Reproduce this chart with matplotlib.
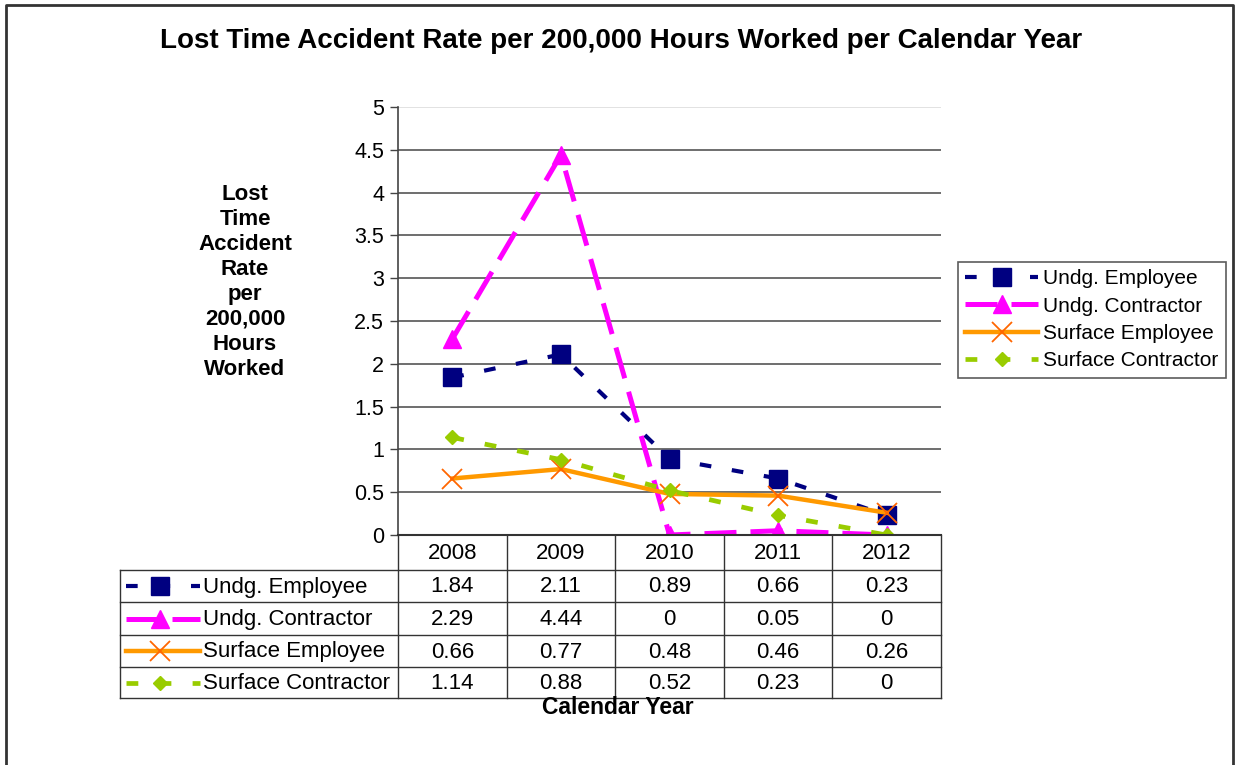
import matplotlib.pyplot as plt
from matplotlib.lines import Line2D

years = ['2008', '2009', '2010', '2011', '2012']
series_names = ['Undg. Employee', 'Undg. Contractor', 'Surface Employee', 'Surface Contractor']
undg_employee = [1.84, 2.11, 0.89, 0.66, 0.23]
undg_contractor = [2.29, 4.44, 0, 0.05, 0]
surface_employee = [0.66, 0.77, 0.48, 0.46, 0.26]
surface_contractor = [1.14, 0.88, 0.52, 0.23, 0]

plt.rcParams['font.family'] = ['Liberation Sans', 'DejaVu Sans']

styles = [
    dict(color='#000080', ls=(0, (2.8, 5)), lw=3, marker='s', ms=12.5, mfc='#000080', mec='#000080'),
    dict(color='#FF00FF', ls=(0, (6.4, 2.8)), lw=3.6, marker='^', ms=13, mfc='#FF00FF', mec='#FF00FF'),
    dict(color='#FF9900', ls='-', lw=3.2, marker='x', ms=14, mfc='none', mec='#FF6600', mew=1.3),
    dict(color='#99CC00', ls=(0, (2.5, 4.5)), lw=3.4, marker='D', ms=7.5, mfc='#99CC00', mec='#99CC00'),
]
values = [undg_employee, undg_contractor, surface_employee, surface_contractor]

W, H = 1235, 765
fig = plt.figure(figsize=(W / 100, H / 100), dpi=100)

def fx(px):
    return px / W

def fy(py):
    return 1 - py / H

# outer border (left, top, right)
fig.add_artist(Line2D([fx(6), fx(6), fx(1233), fx(1233)], [0, fy(4.5), fy(4.5), 0],
                      color='#333333', lw=2, transform=fig.transFigure))

left, right, top, bottom = 398, 941, 107, 535
ax = fig.add_axes([fx(left), fy(bottom), fx(right - left), fy(top) - fy(bottom)])

x = list(range(len(years)))
handles = []
for name, vals, st in zip(series_names, values, styles):
    h, = ax.plot(x, vals, label=name, zorder=3, **st)
    handles.append(h)

ax.set_xlim(-0.5, len(years) - 0.5)
ax.set_ylim(0, 5)
ax.set_yticks([i * 0.5 for i in range(11)])
ax.set_yticklabels(['0', '0.5', '1', '1.5', '2', '2.5', '3', '3.5', '4', '4.5', '5'], fontsize=15.5)
ax.set_xticks([])
ax.tick_params(axis='y', direction='out', length=6, width=1, color='#444444', pad=4)
for yv in [i * 0.5 for i in range(1, 11)]:
    ax.axhline(yv, color='#555555' if yv < 5 else '#dddddd', lw=1.2, zorder=1)
for s in ['top', 'right']:
    ax.spines[s].set_visible(False)
ax.spines['left'].set_color('#444444')
ax.spines['left'].set_linewidth(1.2)
ax.spines['bottom'].set_color('#333333')
ax.spines['bottom'].set_linewidth(1.5)
ax.spines['bottom'].set_zorder(5)

fig.text(fx(621), fy(41), 'Lost Time Accident Rate per 200,000 Hours Worked per Calendar Year',
         ha='center', va='center', fontsize=20, fontweight='bold')

fig.text(fx(245), fy(282),
         'Lost\nTime\nAccident\nRate\nper\n200,000\nHours\nWorked',
         ha='center', va='center', fontsize=16, fontweight='bold', linespacing=1.25)

# data table below the plot
row_lines = [570, 602, 635, 667, 698]
col_w = (right - left) / len(years)
tl = dict(color='#333333', lw=1, transform=fig.transFigure)
fig.add_artist(Line2D([fx(left), fx(left)], [fy(bottom), fy(row_lines[-1])], **tl))
for i in range(1, len(years) + 1):
    xx = fx(left + i * col_w)
    fig.add_artist(Line2D([xx, xx], [fy(bottom), fy(row_lines[-1])], **tl))
for ry in row_lines:
    fig.add_artist(Line2D([fx(120), fx(right)], [fy(ry), fy(ry)], **tl))
fig.add_artist(Line2D([fx(120), fx(120)], [fy(row_lines[0]), fy(row_lines[-1])], **tl))

for i, yr in enumerate(years):
    fig.text(fx(left + (i + 0.5) * col_w), fy((bottom + row_lines[0]) / 2 + 1), yr,
             ha='center', va='center', fontsize=16)
for r, (name, vals, st) in enumerate(zip(series_names, values, styles)):
    cy = (row_lines[r] + row_lines[r + 1]) / 2
    ln = Line2D([fx(126), fx(200)], [fy(cy), fy(cy)], transform=fig.transFigure,
                **{k: v for k, v in st.items() if k not in ('marker', 'ms', 'mfc', 'mec', 'mew')})
    fig.add_artist(ln)
    mk = Line2D([fx(160)], [fy(cy)], transform=fig.transFigure, ls='none',
                **{k: v for k, v in st.items() if k not in ('color', 'ls', 'lw')})
    fig.add_artist(mk)
    fig.text(fx(203), fy(cy + 1), name, ha='left', va='center', fontsize=16)
    for i, v in enumerate(vals):
        fig.text(fx(left + (i + 0.5) * col_w), fy(cy + 1), f'{v:g}',
                 ha='center', va='center', fontsize=16)

fig.text(fx(618), fy(707), 'Calendar Year', ha='center', va='center',
         fontsize=16.5, fontweight='bold')

leg = fig.legend(handles=handles, loc='upper left', numpoints=1,
                 bbox_to_anchor=(fx(958), fy(262)), fontsize=15,
                 frameon=True, fancybox=False, edgecolor='#333333',
                 handlelength=3.5, handletextpad=0.25, labelspacing=0.4,
                 borderpad=0.35, borderaxespad=0)
leg.get_frame().set_linewidth(1.2)

fig.savefig('out.png', dpi=100)
